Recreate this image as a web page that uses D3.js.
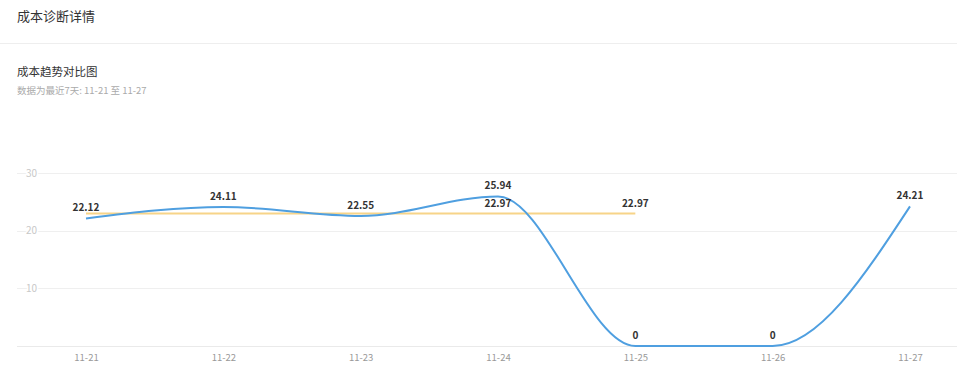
<!DOCTYPE html>
<html><head><meta charset="utf-8">
<script src="https://cdn.jsdelivr.net/npm/d3@7/dist/d3.min.js"></script>
<style>
body{margin:0;background:#fff;font-family:"Noto Sans CJK SC","Noto Sans",sans-serif;}
svg{display:block}
</style></head><body>
<svg id="c" width="957" height="384"></svg>
<script>
const categories = ["11-21","11-22","11-23","11-24","11-25","11-26","11-27"];
const costValues = [22.12, 24.11, 22.55, 25.94, 0, 0, 24.21];
const avgValues = [22.97, 22.97, 22.97, 22.97, 22.97, null, null];
const avgLabelShown = [false, false, false, true, true, false, false];
const yTicks = [10, 20, 30];

const svg = d3.select("#c");
const font = '"Noto Sans CJK SC","Noto Sans",sans-serif';

svg.append("text").attr("x",17).attr("y",21).attr("font-size",13).attr("fill","#333").attr("font-family",font).text("成本诊断详情");
svg.append("line").attr("x1",0).attr("x2",957).attr("y1",43.5).attr("y2",43.5).attr("stroke","#eeeeee");
svg.append("text").attr("x",17).attr("y",76).attr("font-size",11.5).attr("fill","#333").attr("font-family",font).text("成本趋势对比图");
svg.append("text").attr("x",17).attr("y",94).attr("font-size",9.5).attr("fill","#aaa").attr("font-family",font).text("数据为最近7天: 11-21 至 11-27");

const x = d3.scalePoint().domain(categories).range([86, 910]);
const y = d3.scaleLinear().domain([0, 30]).range([346, 173]);

// grid
const g = svg.append("g");
g.selectAll("line.grid").data(yTicks).join("line")
  .attr("x1",17).attr("x2",957).attr("y1",d=>Math.round(y(d))+0.5).attr("y2",d=>Math.round(y(d))+0.5)
  .attr("stroke","#efefef");
g.append("line").attr("x1",17).attr("x2",957).attr("y1",y(0)+0.5).attr("y2",y(0)+0.5).attr("stroke","#eaeaea");

const yAxis = d3.axisLeft(y).tickValues(yTicks).tickSize(0).tickPadding(0);
const ya = svg.append("g").attr("transform","translate(37,0)").call(yAxis);
ya.select(".domain").remove();
ya.selectAll("text").attr("font-size",10).attr("fill","#c8c8c8").attr("font-family",font)
  .attr("paint-order","stroke").attr("stroke","#fff").attr("stroke-width",3);

const xAxis = d3.axisBottom(x).tickSize(0).tickPadding(0);
const xa = svg.append("g").attr("transform","translate(0,354)").call(xAxis);
xa.select(".domain").remove();
xa.selectAll("text").attr("font-size",9.5).attr("fill","#999").attr("font-family",font).attr("dy","0.71em");

// avg line
const avgLine = d3.line().defined(d=>d[1]!=null).x(d=>x(d[0])).y(d=>y(d[1]));
svg.append("path").datum(categories.map((c,i)=>[c,avgValues[i]]))
  .attr("d",avgLine).attr("fill","none").attr("stroke","#f7d488").attr("stroke-width",2);

// cost line
const costLine = d3.line().x(d=>x(d[0])).y(d=>y(d[1])).curve(d3.curveMonotoneX);
svg.append("path").datum(categories.map((c,i)=>[c,costValues[i]]))
  .attr("d",costLine).attr("fill","none").attr("stroke","#4f9fe0").attr("stroke-width",2);

// labels
svg.selectAll("text.cl").data(costValues).join("text")
  .attr("x",(d,i)=>x(categories[i])).attr("y",d=>y(d)-7)
  .attr("text-anchor","middle").attr("font-size",10).attr("font-weight","bold")
  .attr("fill","#333").attr("font-family",font).text(d=>d);
svg.selectAll("text.al").data(avgValues.map((v,i)=>({v,i})).filter(d=>avgLabelShown[d.i])).join("text")
  .attr("x",d=>x(categories[d.i])).attr("y",d=>y(d.v)-7)
  .attr("text-anchor","middle").attr("font-size",10).attr("font-weight","bold")
  .attr("fill","#333").attr("font-family",font).text(d=>d.v);
</script></body></html>
